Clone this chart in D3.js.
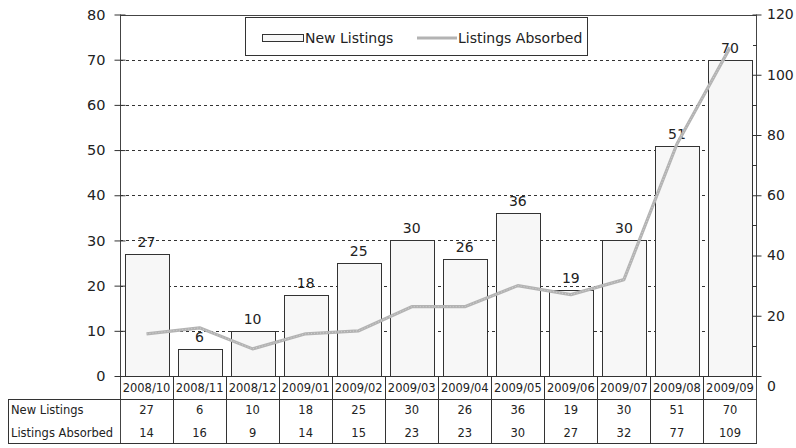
<!DOCTYPE html>
<html>
<head>
<meta charset="utf-8">
<script src="https://cdn.jsdelivr.net/npm/d3@7/dist/d3.min.js"></script>
<style>
  html, body { margin: 0; padding: 0; background: #fff; }
  svg { display: block; font-family: "DejaVu Sans", sans-serif; }
</style>
</head>
<body>
<svg id="chart" width="796" height="448"></svg>
<script>
// Monthly listings data
const months = ["2008/10","2008/11","2008/12","2009/01","2009/02","2009/03",
                "2009/04","2009/05","2009/06","2009/07","2009/08","2009/09"];
const newListings = [27, 6, 10, 18, 25, 30, 26, 36, 19, 30, 51, 70];
const listingsAbsorbed = [14, 16, 9, 14, 15, 23, 23, 30, 27, 32, 77, 109];
const seriesNames = ["New Listings", "Listings Absorbed"];
const leftTicks = [0, 10, 20, 30, 40, 50, 60, 70, 80];
const rightTicks = [0, 20, 40, 60, 80, 100, 120];
const rightMinorTicks = [10, 30, 50, 70, 90, 110];

const svg = d3.select("#chart");
const ink = "#222";
const frame = { left: 120, right: 756.5, top: 14.5, bottom: 376 };
const tableLeft = 8, rowH = 22.5;

const x = d3.scaleBand().domain(months).range([frame.left, frame.right])
  .paddingInner(0.17).paddingOuter(0.085);
const xCell = d3.scaleBand().domain(months).range([frame.left, frame.right]).padding(0);
const yLeft = d3.scaleLinear().domain([0, 80]).range([frame.bottom, frame.top]);
const yRight = d3.scaleLinear().domain([0, 120]).range([frame.bottom, frame.top]);

// dashed gridlines
svg.append("g").selectAll("line").data(leftTicks.filter(t => t > 0 && t < 80)).join("line")
  .attr("x1", frame.left).attr("x2", frame.right)
  .attr("y1", d => Math.round(yLeft(d)) + 0.5).attr("y2", d => Math.round(yLeft(d)) + 0.5)
  .attr("stroke", "#333").attr("stroke-dasharray", "3,3").attr("shape-rendering", "crispEdges");

// top border
svg.append("line").attr("x1", frame.left).attr("x2", frame.right)
  .attr("y1", Math.round(frame.top) + 0.5).attr("y2", Math.round(frame.top) + 0.5)
  .attr("stroke", "#444").attr("shape-rendering", "crispEdges");

// bars
svg.append("g").selectAll("rect").data(months).join("rect")
  .attr("x", d => Math.round(x(d)) + 0.5)
  .attr("y", (d, i) => Math.round(yLeft(newListings[i])) + 0.5)
  .attr("width", Math.round(x.bandwidth()))
  .attr("height", (d, i) => Math.round(frame.bottom) - Math.round(yLeft(newListings[i])))
  .attr("fill", "#f7f7f7").attr("stroke", "#333").attr("shape-rendering", "crispEdges");

// bar value labels
svg.append("g").selectAll("text").data(months).join("text")
  .attr("x", d => x(d) + x.bandwidth() / 2)
  .attr("y", (d, i) => yLeft(newListings[i]) - 7)
  .attr("text-anchor", "middle").attr("font-size", 14).attr("fill", ink)
  .text((d, i) => newListings[i]);

// absorbed line (right axis)
const line = d3.line()
  .x(d => x(d.m) + x.bandwidth() / 2)
  .y(d => yRight(d.v));
const pts = months.map((m, i) => ({ m, v: listingsAbsorbed[i] }));
svg.append("path").datum(pts).attr("d", line)
  .attr("fill", "none").attr("stroke", "#b3b3b3").attr("stroke-width", 3.2)
  .attr("stroke-linejoin", "round");
svg.append("path").datum(pts).attr("d", line)
  .attr("fill", "none").attr("stroke", "#d2d2d2").attr("stroke-width", 1)
  .attr("stroke-dasharray", "1,2");

// left axis
const gL = svg.append("g").attr("transform", `translate(${frame.left + 0.5},0)`);
gL.call(d3.axisLeft(yLeft).tickValues(leftTicks).tickSize(6).tickPadding(9));
gL.selectAll(".tick line").attr("x2", -6).attr("x1", 5).attr("stroke", "#333");
gL.select(".domain").attr("stroke", "#444").attr("d", `M0,${frame.top}V${frame.bottom + 67}`);
gL.selectAll("text").attr("font-size", 14.5).attr("fill", ink).attr("font-family", "DejaVu Sans");

// right axis
const gR = svg.append("g").attr("transform", `translate(${frame.right},0)`);
gR.call(d3.axisRight(yRight).tickValues(rightTicks).tickSize(5).tickPadding(5.5));
gR.selectAll(".tick line").attr("x1", -4).attr("x2", 5).attr("stroke", "#333");
gR.select(".domain").attr("stroke", "#444").attr("d", `M0,${frame.top}V${frame.bottom + 67}`);
gR.selectAll("text").attr("font-size", 14).attr("fill", ink).attr("font-family", "DejaVu Sans");
gR.selectAll(".tick").filter(d => d === 0).select("text").attr("dy", "1.0em");
gR.append("g").selectAll("line").data(rightMinorTicks).join("line")
  .attr("x1", -4).attr("x2", 0)
  .attr("y1", d => Math.round(yRight(d)) + 0.5).attr("y2", d => Math.round(yRight(d)) + 0.5)
  .attr("stroke", "#333").attr("shape-rendering", "crispEdges");

// data table
const tbl = svg.append("g").attr("shape-rendering", "crispEdges");
const yCatTop = frame.bottom, yRowTop = frame.bottom + rowH, yBottom = frame.bottom + 3 * rowH - 0.5;
tbl.append("line").attr("x1", frame.left).attr("x2", frame.right)
  .attr("y1", yCatTop + 0.5).attr("y2", yCatTop + 0.5).attr("stroke", "#333");
[yRowTop, yBottom].forEach(yy => tbl.append("line").attr("x1", tableLeft).attr("x2", frame.right)
  .attr("y1", Math.round(yy) + 0.5).attr("y2", Math.round(yy) + 0.5).attr("stroke", "#333"));
tbl.append("line").attr("x1", tableLeft + 0.5).attr("x2", tableLeft + 0.5)
  .attr("y1", yRowTop).attr("y2", yBottom + 1).attr("stroke", "#333");
tbl.selectAll("line.sep").data(months.slice(1)).join("line").attr("class", "sep")
  .attr("x1", d => Math.round(xCell(d)) + 0.5).attr("x2", d => Math.round(xCell(d)) + 0.5)
  .attr("y1", yCatTop).attr("y2", yBottom + 1).attr("stroke", "#333");

const cx = d => xCell(d) + xCell.bandwidth() / 2;
tbl.selectAll("text.cat").data(months).join("text").attr("class", "cat")
  .attr("x", cx).attr("y", yCatTop + rowH / 2 + 4.5)
  .attr("text-anchor", "middle").attr("font-size", 11.5).attr("fill", ink).text(d => d);
[newListings, listingsAbsorbed].forEach((vals, r) => {
  const yy = yRowTop + rowH * r + rowH / 2 + 4.5;
  tbl.append("text").attr("x", tableLeft + 3).attr("y", yy)
    .attr("font-size", 11.5).attr("fill", ink).text(seriesNames[r]);
  tbl.append("g").selectAll("text").data(months).join("text")
    .attr("x", cx).attr("y", yy).attr("text-anchor", "middle")
    .attr("font-size", 11.5).attr("fill", ink).text((d, i) => vals[i]);
});

// legend
const lg = svg.append("g");
lg.append("rect").attr("x", 245.5).attr("y", 17.5).attr("width", 342).attr("height", 38)
  .attr("fill", "#fff").attr("stroke", "#333").attr("shape-rendering", "crispEdges");
lg.append("rect").attr("x", 262.5).attr("y", 34.5).attr("width", 41).attr("height", 7)
  .attr("fill", "#f7f7f7").attr("stroke", "#333").attr("shape-rendering", "crispEdges");
lg.append("text").attr("x", 305).attr("y", 42.5).attr("font-size", 14).attr("fill", ink).text(seriesNames[0]);
lg.append("line").attr("x1", 417).attr("x2", 457).attr("y1", 38).attr("y2", 38)
  .attr("stroke", "#b3b3b3").attr("stroke-width", 3.2);
lg.append("text").attr("x", 458).attr("y", 42.5).attr("font-size", 14).attr("fill", ink).text(seriesNames[1]);
</script>
</body>
</html>
